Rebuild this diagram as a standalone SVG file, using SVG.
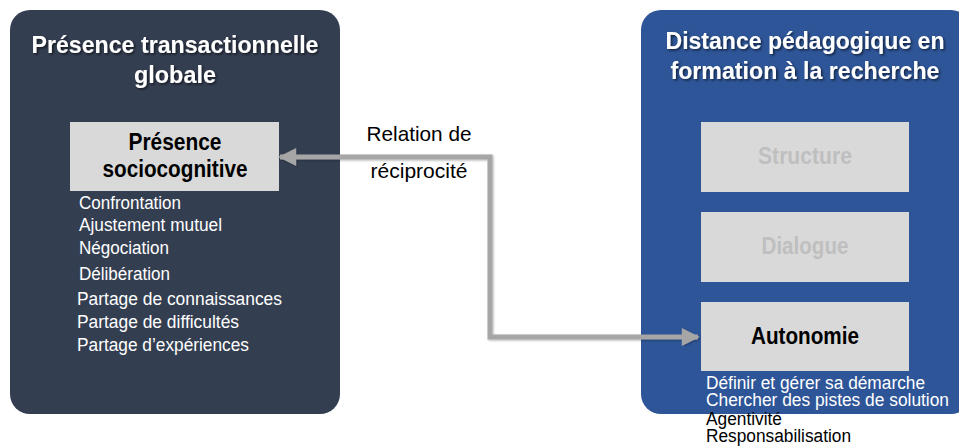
<svg xmlns="http://www.w3.org/2000/svg" width="959" height="446" viewBox="0 0 959 446">
  <defs>
    <filter id="txtShadow" x="-5%" y="-20%" width="110%" height="150%">
      <feDropShadow dx="1.5" dy="1.5" stdDeviation="1" flood-color="#000" flood-opacity="0.6"/>
    </filter>
    <filter id="lineShadow" x="-5%" y="-5%" width="110%" height="110%">
      <feDropShadow dx="1" dy="1" stdDeviation="1" flood-color="#000" flood-opacity="0.3"/>
    </filter>
    <marker id="arrow" viewBox="0 0 10 10" refX="9" refY="5" markerWidth="3.8" markerHeight="3.6" orient="auto-start-reverse" markerUnits="strokeWidth">
      <path d="M0,0 L10,5 L0,10 Z" fill="#a6a6a6"/>
    </marker>
  </defs>
  <style>
    text { font-family: "Liberation Sans", Arial, sans-serif; }
    .title { font-size: 24px; font-weight: bold; fill: #ffffff; text-anchor: middle; }
    .box { fill: #d9d9d9; }
    .boxlabel { font-size: 23px; font-weight: bold; text-anchor: middle; }
    .item { font-size: 18px; fill: #ffffff; }
    .ritem { font-size: 18px; }
    .conn { fill: none; stroke: #a6a6a6; stroke-width: 5; }
    .rel { font-size: 21px; fill: #000; text-anchor: middle; }
  </style>

  <!-- left panel -->
  <g id="presence-transactionnelle">
    <rect x="10" y="10" width="330" height="404" rx="20" fill="#343e51"/>
    <g filter="url(#txtShadow)">
      <text class="title" x="175" y="53" textLength="287" lengthAdjust="spacingAndGlyphs">Présence transactionnelle</text>
      <text class="title" x="175" y="83" textLength="82" lengthAdjust="spacingAndGlyphs">globale</text>
    </g>
  </g>

  <g id="presence-sociocognitive">
    <rect class="box" x="70" y="122" width="209" height="69"/>
    <text class="boxlabel" x="175" y="150" fill="#000" textLength="93" lengthAdjust="spacingAndGlyphs">Présence</text>
    <text class="boxlabel" x="175" y="177" fill="#000" textLength="145" lengthAdjust="spacingAndGlyphs">sociocognitive</text>
    <text class="item" x="79" y="209" textLength="102" lengthAdjust="spacingAndGlyphs">Confrontation</text>
    <text class="item" x="79" y="231" textLength="143" lengthAdjust="spacingAndGlyphs">Ajustement mutuel</text>
    <text class="item" x="79" y="254" textLength="90" lengthAdjust="spacingAndGlyphs">Négociation</text>
    <text class="item" x="79" y="280" textLength="91" lengthAdjust="spacingAndGlyphs">Délibération</text>
    <text class="item" x="77" y="305" textLength="205" lengthAdjust="spacingAndGlyphs">Partage de connaissances</text>
    <text class="item" x="77" y="328" textLength="162" lengthAdjust="spacingAndGlyphs">Partage de difficultés</text>
    <text class="item" x="77" y="351" textLength="172" lengthAdjust="spacingAndGlyphs">Partage d’expériences</text>
  </g>

  <!-- right panel -->
  <g id="distance-pedagogique">
    <rect x="641" y="10" width="330" height="404" rx="20" fill="#2e5597"/>
    <g filter="url(#txtShadow)">
      <text class="title" x="805" y="49" textLength="279" lengthAdjust="spacingAndGlyphs">Distance pédagogique en</text>
      <text class="title" x="805" y="79" textLength="269" lengthAdjust="spacingAndGlyphs">formation à la recherche</text>
    </g>
  </g>

  <g id="structure">
    <rect class="box" x="701" y="122" width="208" height="70"/>
    <text class="boxlabel" x="805" y="164" fill="#bfbfbf" textLength="94" lengthAdjust="spacingAndGlyphs">Structure</text>
  </g>

  <g id="dialogue">
    <rect class="box" x="701" y="212" width="208" height="70"/>
    <text class="boxlabel" x="805" y="254" fill="#bfbfbf" textLength="87" lengthAdjust="spacingAndGlyphs">Dialogue</text>
  </g>

  <g id="autonomie">
    <rect class="box" x="701" y="302" width="208" height="69"/>
    <text class="boxlabel" x="805" y="344" fill="#000" textLength="108" lengthAdjust="spacingAndGlyphs">Autonomie</text>
    <text class="ritem" x="706" y="389" fill="#ffffff" textLength="219" lengthAdjust="spacingAndGlyphs">Définir et gérer sa démarche</text>
    <text class="ritem" x="706" y="406" fill="#ffffff" textLength="243" lengthAdjust="spacingAndGlyphs">Chercher des pistes de solution</text>
    <text class="ritem" x="706" y="425" fill="#000000" textLength="76" lengthAdjust="spacingAndGlyphs">Agentivité</text>
    <text class="ritem" x="706" y="442" fill="#000000" textLength="145" lengthAdjust="spacingAndGlyphs">Responsabilisation</text>
  </g>

  <!-- reciprocal connector -->
  <g id="connectors">
    <path class="conn" filter="url(#lineShadow)" d="M698,337 H490 V157 H280" marker-start="url(#arrow)" marker-end="url(#arrow)"/>
    <text class="rel" x="419" y="141" textLength="105" lengthAdjust="spacingAndGlyphs">Relation de</text>
    <text class="rel" x="419" y="178" textLength="97" lengthAdjust="spacingAndGlyphs">réciprocité</text>
  </g>
</svg>
